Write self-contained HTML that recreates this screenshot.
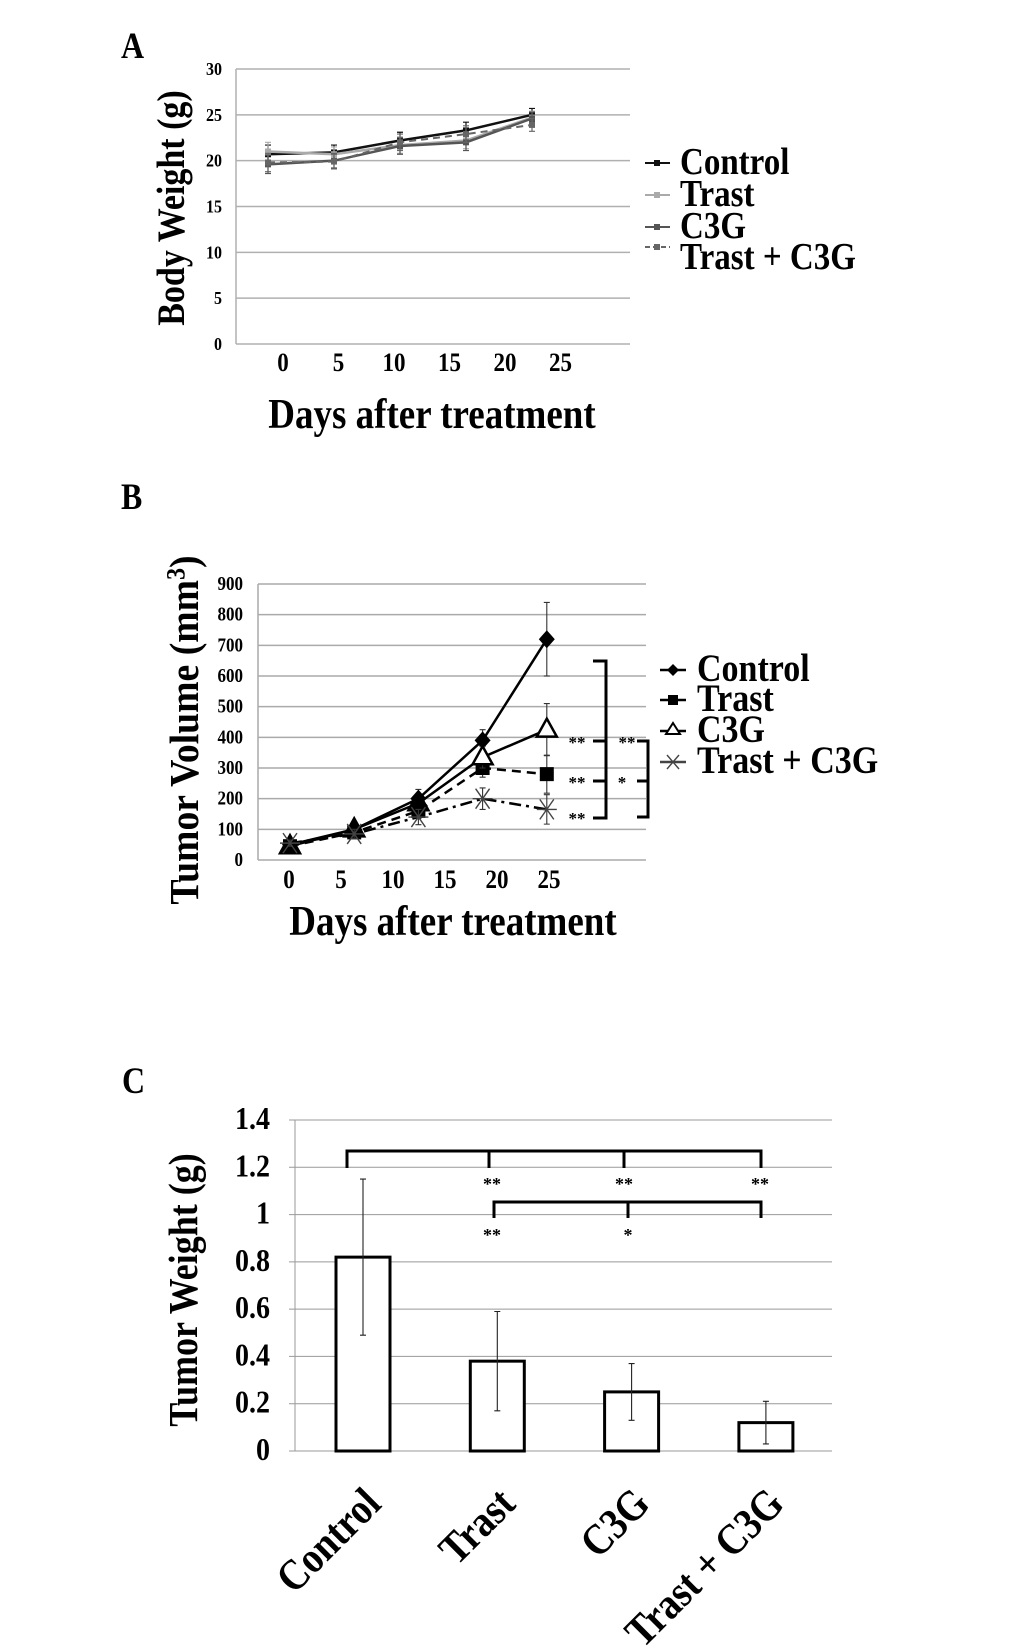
<!DOCTYPE html>
<html><head><meta charset="utf-8"><style>
html,body{margin:0;padding:0;background:#fff}
svg{display:block}
text{font-family:"Liberation Serif",serif;font-weight:bold;fill:#000}
</style></head><body>
<svg id="fig" width="1033" height="1650" viewBox="0 0 1033 1650" xmlns="http://www.w3.org/2000/svg">
<text x="121" y="58" font-size="32">A</text>
<text x="121" y="509" font-size="32">B</text>
<text x="122" y="1093" font-size="32">C</text>
<g id="A"></g>
<g id="B"></g>
<g id="C"></g>
</svg>
<script>
// ---------- Panel A data ----------
const aTicks = [0,5,10,15,20,25,30];
const aXLabels = [0,5,10,15,20,25];
const aSeriesNames = ["Control","Trast","C3G","Trast + C3G"];
const aControl = [20.7,20.9,22.2,23.3,25.0];
const aTrast = [21.0,20.7,21.7,22.2,24.7];
const aC3G = [19.6,20.0,21.6,22.0,24.6];
const aTC = [19.8,19.9,22.0,22.9,23.9];
const aErr = [1.0,0.8,0.9,0.9,0.7];
// ---------- Panel B data ----------
const bTicks = [0,100,200,300,400,500,600,700,800,900];
const bXLabels = [0,5,10,15,20,25];
const bControl = [50,100,200,390,720];
const bTrast = [45,90,160,300,280];
const bC3G = [45,100,185,335,425];
const bTC = [55,85,140,200,165];
const bControlErr = [15,15,30,35,120];
const bTrastErr = [10,15,25,30,62];
const bC3GErr = [10,15,25,35,85];
const bTCErr = [10,15,25,35,48];
// ---------- Panel C data ----------
const cCategories = ["Control","Trast","C3G","Trast + C3G"];
const cValues = [0.82,0.38,0.25,0.12];
const cErr = [0.33,0.21,0.12,0.09];
const cTicks = [0,0.2,0.4,0.6,0.8,1,1.2,1.4];

const NS="http://www.w3.org/2000/svg";
function mk(tag,attrs,parent){const e=document.createElementNS(NS,tag);for(const k in attrs)e.setAttribute(k,attrs[k]);parent.appendChild(e);return e;}
function txt(parent,x,y,s,size,anchor){const t=mk('text',{x:x,y:y,'font-size':size,'text-anchor':anchor||'start'},parent);t.textContent=s;return t;}

// ===== Panel A =====
(function(){
const g=document.getElementById('A');
const L=236,R=630,T=69,B=344;
const y=v=>B-(v/30)*(B-T);
const xi=i=>268+i*66;
const xl=v=>283+v*11.1;
aTicks.forEach(v=>{
  const ln=mk('line',{x1:L,x2:R,y1:y(v),y2:y(v),stroke:'#b0b0b0','stroke-width':1.5},g);
  
  
  const t=txt(g,222,y(v)+6,String(v),16,'end');
  
  
});
const ax=mk('line',{x1:L,x2:L,y1:T,y2:B,stroke:'#b0b0b0','stroke-width':1.5},g);

aXLabels.forEach(v=>{const t=txt(g,xl(v),371,String(v),23,'middle');
  
  });
const series=[[aControl,'#111','',2.5],[aTrast,'#aaa','',2.5],[aC3G,'#555','',2.5],[aTC,'#666','7,5',2]];
series.forEach((s,k)=>{
  const d=s[0].map((v,i)=>(i?'L':'M')+xi(i)+','+y(v)).join(' ');
  s[0].forEach((v,i)=>{
    const e=mk('path',{d:`M${xi(i)},${y(v+aErr[i])}V${y(v-aErr[i])}M${xi(i)-3},${y(v+aErr[i])}h6M${xi(i)-3},${y(v-aErr[i])}h6`,stroke:s[1],'stroke-width':1.2,fill:'none'},g);
    
    
  });
  const p=mk('path',{d:d,stroke:s[1],'stroke-width':s[3],fill:'none','stroke-dasharray':s[2]},g);
  
  
  s[0].forEach((v,i)=>{
    const m=mk('rect',{x:xi(i)-3,y:y(v)-3,width:6,height:6,fill:s[1]},g);
    
    
  });
});
const ly=[163,195,227,258];
aSeriesNames.forEach((n,i)=>{
  const s=series[i];
  const lm=mk('line',{x1:645,x2:670,y1:ly[i]-(i==3?11:0),y2:ly[i]-(i==3?11:0),stroke:s[1],'stroke-width':2,'stroke-dasharray':s[2]?'5,3':''},g);
  
  
  mk('rect',{x:654,y:ly[i]-3-(i==3?11:0),width:6,height:6,fill:s[1]},g);
  const t=txt(g,680,ly[i]+11,n,33);
  
  
});
const xt=txt(g,432,428,'Days after treatment',37,'middle');

const yt=txt(g,0,0,'Body Weight (g)',34,'middle');
yt.setAttribute('transform','translate(184,208) rotate(-90)');

})();

// ===== Panel B =====
(function(){
const g=document.getElementById('B');
const L=258,R=646,T=584,B=860;
const y=v=>B-(v/900)*(B-T);
const xi=i=>290+i*64.2;
const xl=v=>289+v*10.4;
bTicks.forEach(v=>{
  const ln=mk('line',{x1:L,x2:R,y1:y(v),y2:y(v),stroke:'#aaa','stroke-width':1.5},g);
  
  
  const t=txt(g,243,y(v)+6,String(v),17,'end');
  
  
});
const ax=mk('line',{x1:L,x2:L,y1:T,y2:B,stroke:'#aaa','stroke-width':1.5},g);

bXLabels.forEach(v=>{const t=txt(g,xl(v),888,String(v),23,'middle');
  
  });
const series=[[bControl,bControlErr,'','diamond'],[bTrast,bTrastErr,'9,6','square'],[bC3G,bC3GErr,'','triangle'],[bTC,bTCErr,'12,5,3,5','star']];
series.forEach((s,k)=>{
  s[0].forEach((v,i)=>{
    const e=s[1][i];
    const eb=mk('path',{d:`M${xi(i)},${y(v+e)}V${y(v-e)}M${xi(i)-3},${y(v+e)}h6M${xi(i)-3},${y(v-e)}h6`,stroke:'#333','stroke-width':1.1,fill:'none'},g);
    
    
  });
  const d=s[0].map((v,i)=>(i?'L':'M')+xi(i)+','+y(v)).join(' ');
  const p=mk('path',{d:d,stroke:'#000','stroke-width':2.5,fill:'none','stroke-dasharray':s[2]},g);
  
  
  s[0].forEach((v,i)=>{
    const cx=xi(i),cy=y(v);let m;
    if(s[3]=='diamond')m=mk('path',{d:`M${cx},${cy-9}L${cx+8},${cy}L${cx},${cy+9}L${cx-8},${cy}Z`,fill:'#000'},g);
    else if(s[3]=='square')m=mk('rect',{x:cx-7,y:cy-7,width:14,height:14,fill:'#000'},g);
    else if(s[3]=='triangle')m=mk('path',{d:`M${cx},${cy-11}L${cx+10},${cy+7}L${cx-10},${cy+7}Z`,fill:i<3?'#000':'#fff',stroke:'#000','stroke-width':2.5},g);
    else m=mk('path',{d:`M${cx-10},${cy}h20M${cx-7},${cy-10}L${cx+7},${cy+10}M${cx+7},${cy-10}L${cx-7},${cy+10}`,stroke:'#444','stroke-width':1.4},g);
    
    
  });
});
const sig=mk('path',{d:'M593,661H606V818H593M593,741H606M593,781H606M637,741H648V817H637M637,781H648',stroke:'#000','stroke-width':3,fill:'none'},g);

[[577,748,'**'],[577,788,'**'],[577,824,'**'],[627,748,'**'],[622,788,'*']].forEach(a=>{
  const t=txt(g,a[0],a[1],a[2],17,'middle');
  
  
});
const ly=[670,700,731,762];
aSeriesNames.forEach((n,i)=>{
  const lm=mk('line',{x1:660,x2:686,y1:ly[i],y2:ly[i],stroke:i==3?'#444':'#000','stroke-width':2.5},g);
  
  
  const cx=673,cy=ly[i];
  if(i==0)mk('path',{d:`M${cx},${cy-6}L${cx+6},${cy}L${cx},${cy+6}L${cx-6},${cy}Z`,fill:'#000'},g);
  if(i==1)mk('rect',{x:cx-5,y:cy-5,width:10,height:10,fill:'#000'},g);
  if(i==2)mk('path',{d:`M${cx},${cy-8}L${cx+7},${cy+3}L${cx-7},${cy+3}Z`,fill:'#fff',stroke:'#000','stroke-width':2},g);
  if(i==3)mk('path',{d:`M${cx-6},${cy-7}L${cx+6},${cy+7}M${cx+6},${cy-7}L${cx-6},${cy+7}`,stroke:'#444','stroke-width':1.4},g);
  const t=txt(g,697,ly[i]+11,n,34);
  
  
});
const xt=txt(g,453,935,'Days after treatment',37,'middle');

const yt=mk('text',{'font-size':41,'text-anchor':'middle',transform:'translate(198,730) rotate(-90) scale(0.92,1)'},g);
yt.textContent='Tumor  Volume (mm';
const sup=mk('tspan',{'baseline-shift':'super','font-size':26},yt);sup.textContent='3';
const cl=mk('tspan',{},yt);cl.textContent=')';

})();

// ===== Panel C =====
(function(){
const g=document.getElementById('C');
const L=295,R=832,T=1120,B=1451;
const y=v=>B-(v/1.4)*(B-T);
const xc=i=>363+i*134.3;
cTicks.forEach(v=>{
  const ln=mk('line',{x1:L-6,x2:R,y1:y(v),y2:y(v),stroke:'#999','stroke-width':1},g);
  
  
  const t=txt(g,270,y(v)+9,String(v),28,'end');
  
  
});
const ax=mk('line',{x1:L,x2:L,y1:T,y2:B,stroke:'#999','stroke-width':1},g);

cValues.forEach((v,i)=>{
  const r=mk('rect',{x:xc(i)-27,y:y(v),width:54,height:B-y(v),fill:'#fff',stroke:'#000','stroke-width':3},g);
  
  
  const e=cErr[i];
  const eb=mk('path',{d:`M${xc(i)},${y(v+e)}V${y(v-e)}M${xc(i)-3},${y(v+e)}h6M${xc(i)-3},${y(v-e)}h6`,stroke:'#222','stroke-width':1.1,fill:'none'},g);
  
  
  const t=txt(g,0,0,cCategories[i],38,'end');
  t.setAttribute('transform',`translate(${xc(i)+20},1506) rotate(-45)`);
  
  
});
const br=mk('path',{d:'M347,1168V1151H761V1168M489,1151V1168M624,1151V1168M494,1218V1202H761V1218M628,1202V1218',stroke:'#000','stroke-width':3,fill:'none'},g);

[[492,1190,'**'],[624,1190,'**'],[760,1190,'**'],[492,1241,'**'],[628,1241,'*']].forEach(a=>{
  const t=txt(g,a[0],a[1],a[2],18,'middle');
  
  
});
const yt=txt(g,0,0,'Tumor  Weight (g)',36,'middle');
yt.setAttribute('transform','translate(197,1290) rotate(-90)');

})();

// condense glyphs: taller text at the same width (matches the narrow look of the reference)
document.querySelectorAll('#fig text').forEach(t=>{
  if(t.querySelector('tspan'))return;
  const s=t.textContent;
  if(/^\*+$/.test(s))return;
  const w=t.getComputedTextLength();
  const fs=parseFloat(t.getAttribute('font-size'));
  t.setAttribute('font-size',(fs*1.15).toFixed(1));
  t.setAttribute('textLength',w.toFixed(1));
  t.setAttribute('lengthAdjust','spacingAndGlyphs');
});
</script>
</body></html>
